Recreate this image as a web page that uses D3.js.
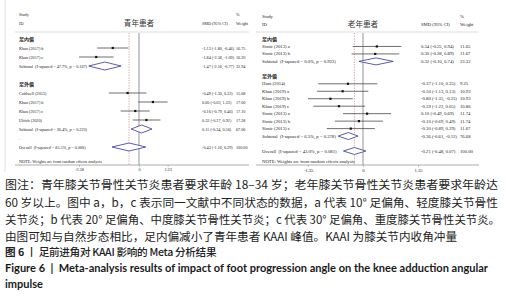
<!DOCTYPE html>
<html><head><meta charset="utf-8">
<script src="https://cdn.jsdelivr.net/npm/d3@7/dist/d3.min.js"></script>
<style>html,body{margin:0;padding:0;background:#fff;}svg{display:block}</style>
</head><body>
<script>
// ---------- Left panel: 青年患者 ----------
const youngTitle = "青年患者";
const youngLabels = ["足内偏","Khan (2017) b","Khan (2017) c","Subtotal  (I-squared = 47.7%, p = 0.167)","","足外偏","Caldwell (2013)","Khan (2017) b","Khan (2017) c","Ulrich (2020)","Subtotal  (I-squared = 36.4%, p = 0.223)",".","Overall  (I-squared = 85.5%, p = 0.000)"];
const youngTypes  = ["group","study","study","subtotal","blank","group","study","study","study","study","subtotal","blank","overall"];
const youngSMD    = [null,-1.13,-1.84,-1.47,null,null,-0.49,0.60,-0.16,0.32,0.11,null,-0.43];
const youngLower  = [null,-1.80,-2.58,-2.16,null,null,-1.30,-0.03,-0.79,-0.27,-0.34,null,-1.16];
const youngUpper  = [null,-0.46,-1.09,-0.77,null,null,0.32,1.23,0.46,0.92,0.56,null,0.29];
const youngWeight = [null,16.75,16.20,32.94,null,null,15.68,17.00,17.10,17.28,67.06,null,100.00];
const youngDomain = [-2.58, 2.58];
const youngTicks  = [-2.58, 0, 1.23];

// ---------- Right panel: 老年患者 ----------
const oldTitle = "老年患者";
const oldLabels = ["足内偏","Simic (2013) a","Simic (2013) b","Subtotal  (I-squared = 0.0%, p = 0.923)","","足外偏","Hunt (2014)","Khan (2019) a","Khan (2019) b","Khan (2019) c","Simic (2013) a","Simic (2013) b","Simic (2013) c","Subtotal  (I-squared = 6.5%, p = 0.378)",".","Overall  (I-squared = 43.0%, p = 0.081)"];
const oldTypes  = ["group","study","study","subtotal","blank","group","study","study","study","study","study","study","study","subtotal","blank","overall"];
const oldSMD    = [null,0.34,0.30,0.32,null,null,-0.37,-0.50,-0.80,-0.59,0.10,-0.10,-0.30,-0.36,null,-0.21];
const oldLower  = [null,-0.25,-0.28,-0.10,null,null,-1.10,-1.13,-1.35,-1.22,-0.49,-0.69,-0.89,-0.61,null,-0.48];
const oldUpper  = [null,0.94,0.89,0.74,null,null,0.35,0.13,-0.25,0.05,0.69,0.49,0.29,-0.12,null,0.07];
const oldWeight = [null,11.65,11.67,23.32,null,null,9.25,10.93,10.93,10.86,11.74,11.74,11.67,76.68,null,100.00];
const oldDomain = [-1.35, 1.35];
const oldTicks  = [-1.35, 0, 1.35];

const noteText = "NOTE: Weights are from random effects analysis";

// ---------- Caption ----------
const captionLines = [
  "图注：青年膝关节骨性关节炎患者要求年龄 18–34 岁；老年膝关节骨性关节炎患者要求年龄达",
  "60 岁以上。图中 a，b，c 表示同一文献中不同状态的数据，a 代表 10° 足偏角、轻度膝关节骨性",
  "关节炎；b 代表 20° 足偏角、中度膝关节骨性关节炎；c 代表 30° 足偏角、重度膝关节骨性关节炎。",
  "由图可知与自然步态相比，足内偏减小了青年患者 KAAI 峰值。KAAI 为膝关节内收角冲量"
];
const figTitleCN = ["图 6", " 丨 足前进角对 KAAI 影响的 Meta 分析结果"];
const figTitleEN = ["Figure 6  |  Meta-analysis results of impact of foot progression angle on the knee adduction angular", "impulse"];

const W = 506, H = 296;
const svg = d3.select("body").append("svg").attr("width", W).attr("height", H)
  .style("background", "#fff");

const serif = "'Liberation Serif','DejaVu Serif',serif";
const cjk = "'Noto Sans CJK SC','Noto Sans CJK JP',sans-serif";
const fmt = v => v.toFixed(2);

// frame line on the left
svg.append("line").attr("x1", 5).attr("x2", 5).attr("y1", 0).attr("y2", 172)
  .attr("stroke", "#d8d8d8").attr("stroke-width", 0.8);

function panel(cfg) {
  const fs = cfg.fs;
  const g = svg.append("g");
  const xs = d3.scaleLinear().domain(cfg.domain).range(cfg.range);
  const n = cfg.labels.length;
  const ys = d3.scaleLinear().domain([0, n - 1]).range([cfg.rowTop, cfg.rowBottom]);
  const txt = (x, y, s) => g.append("text").attr("x", x).attr("y", y).text(s)
    .attr("font-family", serif).attr("font-size", fs).attr("fill", "#222")
    .style("white-space", "pre");

  // header
  txt(cfg.labelX, cfg.headY1 + 1.6, "Study");
  txt(cfg.labelX, cfg.headY2 + 1.6, "ID");
  g.append("text").attr("x", xs(0)).attr("y", cfg.headY2 + 2.8).text(cfg.title)
    .attr("text-anchor", "middle").attr("font-family", cjk).attr("font-size", 7.6).attr("fill", "#333");
  txt(cfg.estX, cfg.headY2 + 1.6, "SMD (95% CI)");
  txt(cfg.wX, cfg.headY1 + 1.6, "%");
  txt(cfg.wX, cfg.headY2 + 1.6, "Weight");
  g.append("line").attr("x1", cfg.x0).attr("x2", cfg.x1).attr("y1", 32).attr("y2", 32)
    .attr("stroke", "#cfcfcf").attr("stroke-width", 0.7);

  // zero line and overall line
  g.append("line").attr("x1", xs(0)).attr("x2", xs(0)).attr("y1", 33).attr("y2", cfg.axisY)
    .attr("stroke", "#c4c4c4").attr("stroke-width", 1.8);
  const oi = cfg.types.indexOf("overall");
  g.append("line").attr("x1", xs(cfg.smd[oi])).attr("x2", xs(cfg.smd[oi]))
    .attr("y1", 33).attr("y2", cfg.axisY)
    .attr("stroke", "#d86a6a").attr("stroke-width", 0.6).attr("stroke-dasharray", "1.4,1.2");

  // rows
  cfg.labels.forEach((lab, i) => {
    const y = ys(i);
    const t = cfg.types[i];
    if (t === "group") {
      g.append("text").attr("x", cfg.labelX).attr("y", y + 1.8).text(lab)
        .attr("font-family", cjk).attr("font-size", 5).attr("font-weight", 700).attr("fill", "#222");
      return;
    }
    txt(cfg.labelX, y + 1.5, lab);
    if (t === "blank") return;
    const v = cfg.smd[i], lo = cfg.lower[i], hi = cfg.upper[i];
    if (t === "study") {
      g.append("line").attr("x1", xs(lo)).attr("x2", xs(hi)).attr("y1", y).attr("y2", y)
        .attr("stroke", "#4a4a4a").attr("stroke-width", 0.8);
      const s = 2.2;
      g.append("rect").attr("x", xs(v) - s / 2).attr("y", y - s / 2).attr("width", s).attr("height", s)
        .attr("fill", "#111");
    } else {
      const h = cfg.dh;
      const pts = [[xs(lo), y], [xs(v), y - h], [xs(hi), y], [xs(v), y + h]];
      g.append("path").attr("d", d3.line()(pts) + "Z")
        .attr("fill", "#fff").attr("stroke", "#33339a").attr("stroke-width", 0.8);
    }
    txt(cfg.estX, y + 1.5, `${fmt(v)} (${fmt(lo)}, ${fmt(hi)})`);
    txt(cfg.wX, y + 1.5, fmt(cfg.weight[i]));
  });

  // note
  txt(cfg.labelX, cfg.noteY + 1.5, noteText);

  // axis
  g.append("line").attr("x1", cfg.x0).attr("x2", cfg.x1).attr("y1", cfg.axisY).attr("y2", cfg.axisY)
    .attr("stroke", "#8a8a8a").attr("stroke-width", 0.7);
  const ax = g.append("g").attr("transform", `translate(0,${cfg.axisY})`)
    .call(d3.axisBottom(xs).tickValues(cfg.ticks).tickSize(2).tickPadding(1.5)
      .tickFormat(d => d === 0 ? "0" : fmt(d)));
  ax.select(".domain").remove();
  ax.selectAll("line").attr("stroke", "#8a8a8a").attr("stroke-width", 0.5);
  ax.selectAll("text").attr("font-family", serif).attr("font-size", fs).attr("fill", "#222");
}

panel({
  title: youngTitle, labels: youngLabels, types: youngTypes, smd: youngSMD,
  lower: youngLower, upper: youngUpper, weight: youngWeight,
  domain: youngDomain, ticks: youngTicks, range: [79, 199], fs: 4.2,
  x0: 15, x1: 249, labelX: 19, estX: 202, wX: 236,
  headY1: 14, headY2: 23, rowTop: 39, rowBottom: 147, dh: 4,
  noteY: 161, axisY: 165
});
panel({
  title: oldTitle, labels: oldLabels, types: oldTypes, smd: oldSMD,
  lower: oldLower, upper: oldUpper, weight: oldWeight,
  domain: oldDomain, ticks: oldTicks, range: [308, 418], fs: 4.7,
  x0: 256, x1: 479, labelX: 262, estX: 421, wX: 460,
  headY1: 16, headY2: 24, rowTop: 39, rowBottom: 151, dh: 3.5,
  noteY: 161, axisY: 165
});

// ---------- Caption ----------
const capY = [185, 203, 220, 237];
const capLen = [493, 493, 495, 452];
captionLines.forEach((line, i) => {
  svg.append("text").attr("x", 5).attr("y", capY[i] + 4).text(line)
    .attr("font-family", cjk).attr("font-size", 11.5).attr("fill", "#222")
    .attr("textLength", capLen[i]).attr("lengthAdjust", "spacingAndGlyphs");
});
const t5 = svg.append("text").attr("x", 5).attr("y", 252 + 4)
  .attr("font-family", cjk).attr("font-size", 10.6).attr("fill", "#222")
  .style("white-space", "pre");
t5.append("tspan").attr("font-weight", 700).text(figTitleCN[0]);
t5.append("tspan").attr("font-weight", 500).attr("letter-spacing", -0.3).text(figTitleCN[1]);
svg.append("text").attr("x", 5).attr("y", 268 + 4).text(figTitleEN[0])
  .attr("font-family", "Lato,'Open Sans',sans-serif").attr("font-weight", 700).attr("font-size", 11)
  .attr("fill", "#1a1a1a").attr("textLength", 483).attr("lengthAdjust", "spacingAndGlyphs")
  .style("white-space", "pre");
svg.append("text").attr("x", 5).attr("y", 284 + 4).text(figTitleEN[1])
  .attr("font-family", "Lato,'Open Sans',sans-serif").attr("font-weight", 700).attr("font-size", 11)
  .attr("fill", "#1a1a1a");
</script>
</body></html>
